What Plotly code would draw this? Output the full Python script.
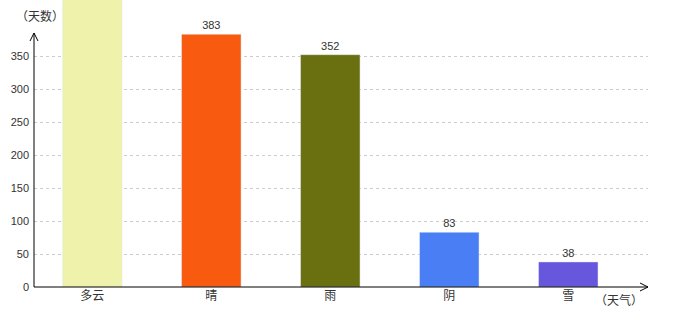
import plotly.graph_objects as go

categories = ["多云", "晴", "雨", "阴", "雪"]
values = [460, 383, 352, 83, 38]
labels = ["", "383", "352", "83", "38"]
colors = ["#EEF2AA", "#F85A10", "#6A7010", "#4A7EF5", "#6757DD"]
y_ticks = [0, 50, 100, 150, 200, 250, 300, 350]

W, H = 680, 320
ml, mr, mt, mb = 34, 32, 0, 33
pw, ph = W - ml - mr, H - mt - mb

fig = go.Figure(go.Bar(
    x=list(range(len(categories))), y=values, marker_color=colors, width=0.5,
    text=labels, textposition="outside", cliponaxis=True,
    textfont=dict(size=11, color="#333", family="Liberation Sans, Arial"),
    hoverinfo="skip"))

ymax = 287 / 0.66
fig.update_layout(
    width=W, height=H, margin=dict(l=ml, r=mr, t=mt, b=mb),
    paper_bgcolor="white", plot_bgcolor="white", showlegend=False,
    font=dict(family="Liberation Sans, Arial", size=11, color="#333"),
    bargap=0.5,
    xaxis=dict(range=[-0.49, 4.67], tickvals=list(range(len(categories))),
               ticktext=categories, showgrid=False, zeroline=False, showline=False,
               ticks="", tickfont=dict(family="Noto Sans CJK SC", size=12, color="#333")),
    yaxis=dict(range=[0, ymax], tickvals=y_ticks, showgrid=True, gridcolor="#cccccc",
               griddash="3px,3px", gridwidth=1, zeroline=False, showline=False, ticks="",
               ticklabelstandoff=4, tickfont=dict(size=11, color="#333")),
)

ax_top = (287 - 33) / ph
dx = 4 / pw
dy = 8 / ph
line = dict(color="black", width=1)
shapes = [
    dict(type="line", xref="paper", yref="paper", x0=0, y0=0, x1=0, y1=ax_top, line=line),
    dict(type="line", xref="paper", yref="paper", x0=-dx, y0=ax_top - dy, x1=0, y1=ax_top, line=line),
    dict(type="line", xref="paper", yref="paper", x0=dx, y0=ax_top - dy, x1=0, y1=ax_top, line=line),
    dict(type="line", xref="paper", yref="paper", x0=0, y0=0, x1=1, y1=0, line=line),
    dict(type="line", xref="paper", yref="paper", x0=1 - 8 / pw, y0=4 / ph, x1=1, y1=0, line=line),
    dict(type="line", xref="paper", yref="paper", x0=1 - 8 / pw, y0=-4 / ph, x1=1, y1=0, line=line),
]
fig.update_layout(shapes=shapes)

fig.add_annotation(text="（天数）", xref="paper", yref="paper",
                   x=(40 - ml) / pw, y=(287 - 15) / ph, showarrow=False,
                   xanchor="center", yanchor="middle",
                   font=dict(family="Noto Sans CJK TC", size=12, color="#333"))
fig.add_annotation(text="（天气）", xref="paper", yref="paper",
                   x=(619 - ml) / pw, y=(287 - 299) / ph, showarrow=False,
                   xanchor="center", yanchor="middle",
                   font=dict(family="Noto Sans CJK TC", size=12, color="#333"))

fig.write_html("out.html")
